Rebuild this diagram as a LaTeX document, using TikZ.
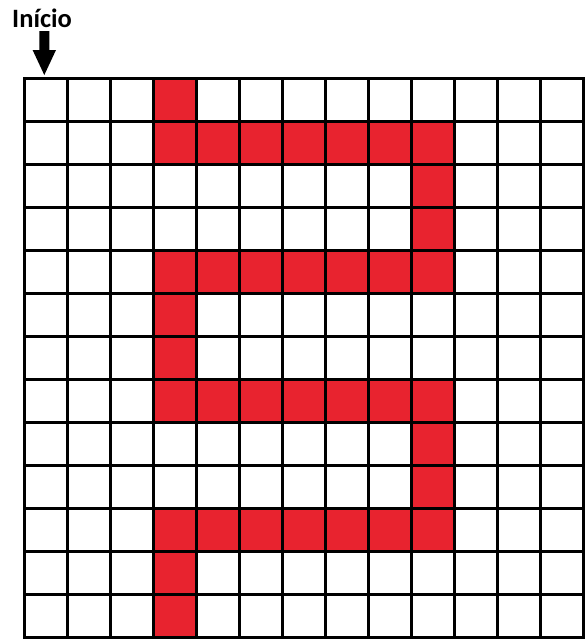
\documentclass[tikz,border=0pt]{standalone}
\usepackage{fontspec}
\setmainfont{Carlito}
\definecolor{cellred}{RGB}{232,35,47}
\begin{document}
\begin{tikzpicture}[x=1pt,y=-1pt,
  redcell/.style={fill=cellred},
  gridline/.style={line width=3.5pt,black,line cap=rect}]
\useasboundingbox (0,0) rectangle (585,641);
\def\cs{43}
\def\ox{24.5}
\def\oy{78.5}
% red cells: {col/row}
\foreach \c/\r in {3/0,
  3/1,4/1,5/1,6/1,7/1,8/1,9/1,
  9/2,9/3,
  3/4,4/4,5/4,6/4,7/4,8/4,9/4,
  3/5,3/6,
  3/7,4/7,5/7,6/7,7/7,8/7,9/7,
  9/8,9/9,
  3/10,4/10,5/10,6/10,7/10,8/10,9/10,
  3/11,3/12}
  \fill[redcell] ({\ox+\c*\cs},{\oy+\r*\cs}) rectangle ++(\cs,\cs);
% grid
\foreach \i in {0,...,13}{
  \draw[gridline] ({\ox+\i*\cs},\oy) -- ({\ox+\i*\cs},{\oy+13*\cs});
  \draw[gridline] (\ox,{\oy+\i*\cs}) -- ({\ox+13*\cs},{\oy+\i*\cs});
}
% label
\node[anchor=base west,inner sep=0pt,font=\bfseries\fontsize{26.5}{26.5}\selectfont] (inicio) at (12,27.8) {Início};
% arrow
\fill[black] (39.3,31) -- (49.3,31) -- (49.3,50) -- (56,50) -- (44.3,75) -- (32.6,50) -- (39.3,50) -- cycle;
\end{tikzpicture}
\end{document}
